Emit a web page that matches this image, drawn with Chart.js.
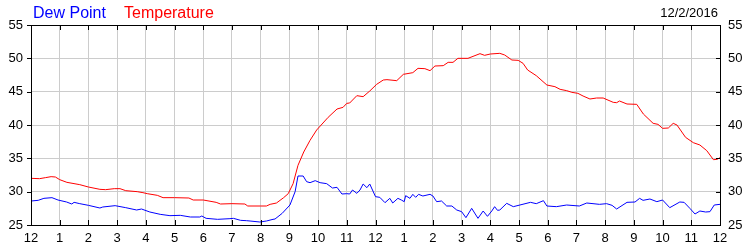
<!DOCTYPE html>
<html>
<head>
<meta charset="utf-8">
<title>Dew Point / Temperature</title>
<script src="https://cdn.jsdelivr.net/npm/chart.js@4.4.1/dist/chart.umd.min.js"></script>
<style>
  body { margin: 0; background: #fff; }
  #wrap { position: relative; width: 750px; height: 250px; }
</style>
</head>
<body>
<div id="wrap"><canvas id="wxChart"></canvas></div>
<script>
// hour labels for the x axis (midnight to midnight)
const hourLabels = ["12", "1", "2", "3", "4", "5", "6", "7", "8", "9", "10", "11",
  "12", "1", "2", "3", "4", "5", "6", "7", "8", "9", "10", "11", "12"]
const yTicks = [25, 30, 35, 40, 45, 50, 55]
const dateText = "12/2/2016"

// temperature readings (hour of day, deg F)
const tempTimes = [0, 0.3, 0.5, 0.7, 0.85, 1.0, 1.25, 1.7, 2.0, 2.4, 2.6, 2.9, 3.1, 3.3, 3.7, 3.9, 4.05,
  4.4, 4.6, 5.0, 5.5, 5.65, 6.0, 6.45, 6.6, 7.0, 7.45, 7.55, 8.0, 8.2, 8.33, 8.55, 8.8, 8.96,
  9.13, 9.3, 9.5, 9.72, 9.95, 10.35, 10.66, 10.87, 11.0, 11.1, 11.35, 11.57, 11.8, 12.04, 12.27,
  12.4, 12.74, 12.97, 13.3, 13.48, 13.72, 13.9, 14.07, 14.36, 14.53, 14.7, 14.87, 15.22, 15.64,
  15.8, 16.0, 16.33, 16.5, 16.75, 16.97, 17.14, 17.3, 17.6, 17.97, 18.25, 18.43, 18.66, 18.84,
  19.05, 19.23, 19.47, 19.7, 19.93, 20.28, 20.4, 20.5, 20.76, 21.1, 21.33, 21.67, 21.84, 22.0,
  22.2, 22.37, 22.5, 22.8, 23.07, 23.3, 23.54, 23.77, 23.9, 24.0]
const tempValues = [32.0, 31.95, 32.1, 32.25, 32.2, 31.8, 31.4, 31.05, 30.7, 30.35, 30.3, 30.45, 30.45,
  30.15, 30.0, 29.85, 29.7, 29.45, 29.1, 29.1, 29.05, 28.75, 28.75, 28.4, 28.15, 28.2, 28.15,
  27.85, 27.85, 27.85, 28.1, 28.3, 29.1, 29.7, 31.2, 33.95, 35.95, 37.7, 39.25, 41.15, 42.4,
  42.65, 43.25, 43.3, 44.4, 44.25, 45.1, 46.1, 46.75, 46.8, 46.65, 47.6, 47.85, 48.5, 48.45,
  48.15, 48.85, 48.9, 49.4, 49.4, 50.0, 50.0, 50.7, 50.45, 50.65, 50.75, 50.5, 49.75, 49.7,
  49.25, 48.25, 47.4, 46.0, 45.75, 45.35, 45.15, 44.9, 44.75, 44.35, 43.9, 44.05, 44.05, 43.4,
  43.35, 43.6, 43.15, 43.1, 41.65, 40.25, 40.1, 39.5, 39.55, 40.25, 40.0, 38.15, 37.35, 37.0,
  36.15, 34.8, 34.85, 35.1]

// dew point readings (hour of day, deg F)
const dewTimes = [0, 0.25, 0.45, 0.73, 0.94, 1.24, 1.42, 1.5, 1.7, 2.0, 2.4, 2.5, 2.93, 3.3, 3.68, 3.85,
  4.14, 4.5, 4.84, 5.2, 5.55, 5.88, 5.95, 6.1, 6.5, 6.93, 7.05, 7.3, 7.5, 7.63, 7.97, 8.2, 8.43,
  8.5, 8.75, 9.02, 9.2, 9.3, 9.48, 9.6, 9.72, 9.9, 10.07, 10.3, 10.5, 10.66, 10.83, 11.0, 11.1,
  11.2, 11.35, 11.46, 11.57, 11.7, 11.8, 12.0, 12.15, 12.33, 12.5, 12.6, 12.78, 12.9, 13.0, 13.05,
  13.2, 13.3, 13.4, 13.5, 13.65, 13.9, 14.0, 14.13, 14.3, 14.48, 14.66, 14.83, 15.0, 15.15, 15.35,
  15.57, 15.75, 15.9, 16.05, 16.15, 16.25, 16.33, 16.57, 16.8, 17.03, 17.4, 17.6, 17.85, 17.97,
  18.3, 18.66, 19.1, 19.36, 19.8, 20.05, 20.24, 20.4, 20.76, 21.04, 21.2, 21.32, 21.56, 21.8, 22.0,
  22.25, 22.6, 22.75, 22.95, 23.13, 23.3, 23.5, 23.65, 23.8, 24.0]
const dewValues = [28.6, 28.7, 29.0, 29.1, 28.75, 28.45, 28.15, 28.4, 28.2, 27.95, 27.55, 27.7, 27.9,
  27.6, 27.25, 27.4, 26.95, 26.6, 26.4, 26.45, 26.2, 26.2, 26.35, 26.0, 25.85, 25.95, 26.0, 25.7,
  25.65, 25.6, 25.45, 25.6, 25.85, 25.9, 26.75, 28.0, 30.0, 32.35, 32.35, 31.5, 31.35, 31.65,
  31.35, 31.2, 30.55, 30.65, 29.65, 29.7, 29.65, 30.25, 29.75, 30.25, 31.15, 30.6, 31.15, 29.25,
  29.15, 28.35, 29.0, 28.3, 29.0, 28.75, 28.5, 29.4, 29.0, 29.6, 29.15, 29.6, 29.35, 29.6, 29.35,
  28.5, 28.6, 27.85, 27.85, 27.25, 27.0, 26.1, 27.5, 26.0, 27.1, 26.3, 27.1, 27.75, 27.2, 27.25,
  28.25, 27.75, 28.0, 28.4, 28.2, 28.65, 27.85, 27.75, 28.0, 27.85, 28.3, 28.1, 28.2, 27.95, 27.4,
  28.4, 28.45, 29.0, 28.7, 28.9, 28.5, 28.75, 27.6, 28.45, 28.4, 27.5, 26.65, 27.1, 26.95, 27.0,
  28.0, 28.1]

const FONT = "'Liberation Sans', Arial, sans-serif"

function toPoints(times, values) {
  return times.map((t, i) => ({ x: t, y: values[i] }))
}

// legend, date, frame and the little tick marks
const decorPlugin = {
  id: "decor",
  afterDraw(chart) {
    const { ctx, chartArea: a } = chart
    ctx.save()
    ctx.textBaseline = "alphabetic"
    ctx.font = "16px " + FONT
    ctx.textAlign = "left"
    ctx.fillStyle = "#0000ff"
    ctx.fillText("Dew Point", 33, 18)
    ctx.fillStyle = "#ff0000"
    ctx.fillText("Temperature", 124, 18)
    ctx.font = "13px " + FONT
    ctx.fillStyle = "#000"
    ctx.textAlign = "right"
    ctx.fillText(dateText, 718, 17)

    ctx.strokeStyle = "#000"
    ctx.lineWidth = 1
    ctx.strokeRect(Math.round(a.left) + 0.5, Math.round(a.top) + 0.5,
      Math.round(a.right - a.left), Math.round(a.bottom - a.top))

    ctx.beginPath()
    const xs = chart.scales.x
    hourLabels.forEach((_, i) => {
      const px = Math.round(xs.getPixelForValue(i)) + 0.5
      ctx.moveTo(px, a.top)
      ctx.lineTo(px, a.top + 5)
      ctx.moveTo(px, a.bottom)
      ctx.lineTo(px, a.bottom - 5)
    })
    const ys = chart.scales.y
    yTicks.forEach((v) => {
      const py = Math.round(ys.getPixelForValue(v)) + 0.5
      ctx.moveTo(a.left - 4, py)
      ctx.lineTo(a.left, py)
      ctx.moveTo(a.right - 4, py)
      ctx.lineTo(a.right, py)
    })
    ctx.stroke()
    ctx.restore()
  },
}

const tickFont = { family: FONT, size: 13 }

new Chart(document.getElementById("wxChart"), {
  type: "line",
  data: {
    datasets: [
      {
        label: "Dew Point",
        data: toPoints(dewTimes, dewValues),
        borderColor: "#0000ff",
        borderWidth: 1,
        pointRadius: 0,
        tension: 0,
      },
      {
        label: "Temperature",
        data: toPoints(tempTimes, tempValues),
        borderColor: "#ff0000",
        borderWidth: 1,
        pointRadius: 0,
        tension: 0,
      },
    ],
  },
  options: {
    responsive: true,
    maintainAspectRatio: false,
    animation: false,
    layout: { padding: { top: 25, left: 0, right: 0, bottom: 0 } },
    plugins: { legend: { display: false }, tooltip: { enabled: false } },
    scales: {
      x: {
        type: "linear",
        min: 0,
        max: 24,
        afterFit: (s) => { s.height = 25 },
        afterBuildTicks: (s) => { s.ticks = hourLabels.map((_, i) => ({ value: i })) },
        grid: { color: "#cccccc", drawTicks: false },
        border: { display: false },
        ticks: {
          autoSkip: false,
          maxRotation: 0,
          padding: 6,
          color: "#000",
          font: tickFont,
          callback: (v) => hourLabels[v],
        },
      },
      y: {
        position: "left",
        min: 25,
        max: 55,
        afterFit: (s) => { s.width = 31 },
        afterBuildTicks: (s) => { s.ticks = yTicks.map((v) => ({ value: v })) },
        grid: { color: "#cccccc", drawTicks: false },
        border: { display: false },
        ticks: { padding: 8, color: "#000", font: tickFont },
      },
      y2: {
        position: "right",
        min: 25,
        max: 55,
        afterFit: (s) => { s.width = 30 },
        afterBuildTicks: (s) => { s.ticks = yTicks.map((v) => ({ value: v })) },
        grid: { display: false, drawTicks: false },
        border: { display: false },
        ticks: { padding: 8, color: "#000", font: tickFont },
      },
    },
  },
  plugins: [decorPlugin],
})
</script>
</body>
</html>
